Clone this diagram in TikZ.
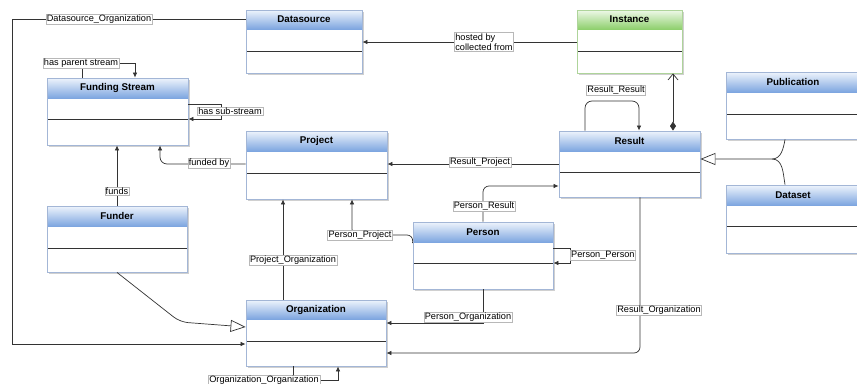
\documentclass[tikz,border=0pt]{standalone}
\usepackage{fontspec}
\setmainfont{Liberation Sans}
\usetikzlibrary{arrows.meta,fit}
\definecolor{bluetop}{HTML}{EEF4FC}
\definecolor{bluebot}{HTML}{7EA6E0}
\definecolor{bluebord}{HTML}{A3B6D6}
\definecolor{greentop}{HTML}{EEF8E8}
\definecolor{greenbot}{HTML}{8FD06E}
\definecolor{greenbord}{HTML}{AED49A}
\definecolor{shadowc}{HTML}{D0D0D0}
\definecolor{linec}{HTML}{333333}
\definecolor{lblbord}{HTML}{B8B8B8}
\tikzset{
  divline/.style={draw=linec, line width=0.7pt},
  hdrtext/.style={font=\fontsize{9.8}{11}\selectfont\bfseries, text=black, inner sep=0pt},
  lbl/.style={font=\fontsize{9.2}{10.5}\selectfont, draw=lblbord, line width=0.4pt, fill=white, inner xsep=1pt, inner ysep=0.8pt, text=black},
  conn/.style={draw=linec, line width=0.7pt},
  assoc/.style={conn, -{Latex[length=5pt,width=4.5pt]}},
  gen/.style={conn, -{Triangle[open,length=15pt,width=12pt,fill=white]}},
  comp/.style={conn, {Diamond[length=9pt,width=6pt]}-{Straight Barb[length=6pt,width=10pt]}},
}
\newcommand{\umlclass}[9]{%
  \fill[shadowc] ({#2+2},{#3+2}) rectangle ({#4+2},{#5+2});
  \fill[white] (#2,#3) rectangle (#4,#5);
  \shade[top color=#9top, bottom color=#9bot] (#2,#3) rectangle (#4,#6);
  \draw[divline] (#2,#7) -- (#4,#7);
  \node[draw=#9bord, line width=0.9pt, fit={(#2,#3) (#4,#5)}, inner sep=0pt] (#1) {};
  \node[hdrtext] (#1t) at ({(#2+#4)/2},{(#3+#6)/2}) {#8};
}
\begin{document}
\begin{tikzpicture}[x=1pt,y=-1pt]
\useasboundingbox[fill=white] (0,0) rectangle (857,383);
% classes
\umlclass{ds}{246}{10}{362}{73}{29}{51}{Datasource}{blue}
\umlclass{inst}{577}{10}{682}{73}{29}{51}{Instance}{green}
\umlclass{fs}{47}{78}{188}{145}{98}{119}{Funding Stream}{blue}
\umlclass{proj}{246}{131}{387}{199}{151}{173}{Project}{blue}
\umlclass{res}{559}{131}{700}{197}{151}{172}{Result}{blue}
\umlclass{pub}{726}{72}{860}{139}{92}{114}{Publication}{blue}
\umlclass{dset}{726}{185}{860}{253}{205}{226}{Dataset}{blue}
\umlclass{fund}{47}{206}{187}{272}{226}{248}{Funder}{blue}
\umlclass{per}{413}{222}{553}{289}{242}{263}{Person}{blue}
\umlclass{org}{246}{300}{386}{366}{319}{341}{Organization}{blue}
% connectors
\draw[assoc] (ds.west |- 0,19) -- (12,19) -- (12,344) -- (org.west |- 0,344);
\draw[assoc] (inst.west |- 0,42) -- (ds.east |- 0,42);
\draw[assoc] (82,0 |- fs.north) -- (82,63) -- (135,63) -- (135,0 |- fs.north);
\draw[assoc] (fs.east |- 0,104) -- (221,104) -- (221,119) -- (fs.east |- 0,119);
\draw[assoc] (fund.north) -- (fund.north |- fs.south);
\draw[assoc, rounded corners=7pt] (proj.west |- 0,164) -- (160,164) -- (160,0 |- fs.south);
\draw[gen, rounded corners=8pt] (117,0 |- fund.south) -- (180,322) -- (org.west |- 0,327);
\draw[assoc] (283,0 |- org.north) -- (283,0 |- proj.south);
\draw[assoc] (res.west |- 0,164) -- (proj.east |- 0,164);
\draw[assoc, rounded corners=6pt] (483,0 |- per.north) -- (483,186) -- (res.west |- 0,186);
\draw[assoc, rounded corners=6pt] (per.west |- 0,243) -- (413,235) -- (352,235) -- (352,0 |- proj.south);
\draw[assoc] (per.east |- 0,248) -- (570,248) -- (570,263) -- (per.east |- 0,263);
\draw[assoc] (483,0 |- per.south) -- (483,323) -- (org.east |- 0,323);
\draw[assoc, rounded corners=6pt] (640,0 |- res.south) -- (640,353) -- (org.east |- 0,353);
\draw[assoc] (293,0 |- org.south) -- (293,380) -- (338,380) -- (338,0 |- org.south);
\draw[assoc, rounded corners=7pt] (585,0 |- res.north) -- (585,101) -- (639,101) -- (639,0 |- res.north);
\draw[comp] (673,0 |- res.north) -- (673,0 |- inst.south);
\coordinate (junc) at (772,159);
\draw[gen] (785,0 |- pub.south) to[out=-100,in=0] (junc) -- (res.east |- junc);
\draw[conn] (785,0 |- dset.north) to[out=100,in=0] (junc);
% labels
\node[lbl] (ldso) at (99,19) {Datasource\_Organization};
\node[lbl, align=left] (lhost) at (484,42) {hosted by\\collected from};
\node[lbl] (lpar) at (81,63) {has parent stream};
\node[lbl] (lsub) at (230,111) {has sub-stream};
\node[lbl] (lfunds) at (117,191) {funds};
\node[lbl] (lfby) at (209,163) {funded by};
\node[lbl] (lrp) at (480,162) {Result\_Project};
\node[lbl] (lpr) at (484,206) {Person\_Result};
\node[lbl] (lpp) at (360,235) {Person\_Project};
\node[lbl, anchor=west] (lpers) at (570,255) {Person\_Person};
\node[lbl] (lporg) at (468,317) {Person\_Organization};
\node[lbl] (lrorg) at (659,310) {Result\_Organization};
\node[lbl] (loo) at (264,380) {Organization\_Organization};
\node[lbl] (lrr) at (616,90) {Result\_Result};
\node[lbl] (lpo) at (293,260) {Project\_Organization};
\end{tikzpicture}
\end{document}
